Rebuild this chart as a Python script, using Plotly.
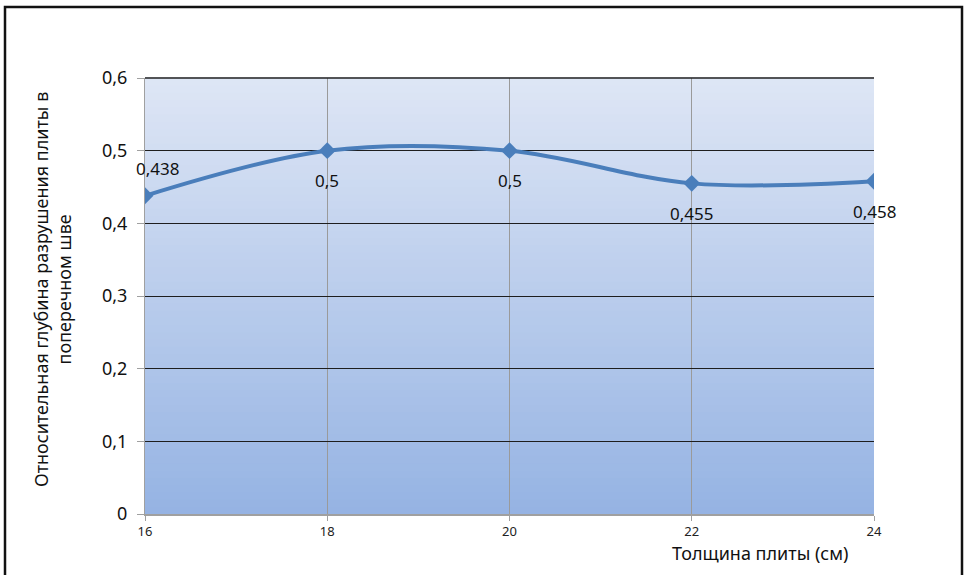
import plotly.graph_objects as go

# Data
thickness = [16, 18, 20, 22, 24]
depth = [0.438, 0.5, 0.5, 0.455, 0.458]
labels = ["0,438", "0,5", "0,5", "0,455", "0,458"]
label_shift = [27, -30, -30, -30, -30]
label_xshift = [12, 0, 0, 0, 0]
y_ticks = [0, 0.1, 0.2, 0.3, 0.4, 0.5, 0.6]
y_ticktext = ["0", "0,1", "0,2", "0,3", "0,4", "0,5", "0,6"]
x_ticks = [16, 18, 20, 22, 24]

FONT = "Noto Sans, Open Sans, sans-serif"
W, H = 967, 575
L, R, T, B = 145, 93, 78, 61
pw, ph = W - L - R, H - T - B

def px_x(px):
    return (px - L) / pw

def px_y(py):
    return (H - B - py) / ph

fig = go.Figure()

fig.add_trace(go.Scatter(
    x=thickness, y=depth, mode="lines+markers",
    line=dict(color="#4a7ebb", width=4, shape="spline", smoothing=1.0),
    marker=dict(symbol="diamond", size=13, color="#4a7ebb"),
    hoverinfo="x+y", showlegend=False,
))

# data labels
for xv, yv, t, ys, xs in zip(thickness, depth, labels, label_shift, label_xshift):
    fig.add_annotation(x=xv, y=yv, text=t, showarrow=False, yshift=ys, xshift=xs,
                       font=dict(family=FONT, size=17, color="#111111"))

# gradient background bands in plot domain
top = (222, 230, 245)
bot = (149, 179, 227)
n = 60
shapes = []
for i in range(n):
    f = (i + 0.5) / n
    c = tuple(round(bot[k] + (top[k] - bot[k]) * f) for k in range(3))
    shapes.append(dict(type="rect", xref="x domain", yref="y domain",
                       x0=0, x1=1, y0=i / n, y1=(i + 1) / n + 0.002,
                       line=dict(width=0), fillcolor="rgb(%d,%d,%d)" % c, layer="below"))
# top gridline (0.6)
shapes.append(dict(type="line", xref="x domain", yref="y domain", x0=0, x1=1, y0=1, y1=1,
                   line=dict(color="#222222", width=1.5), layer="above"))
# outer border
shapes.append(dict(type="rect", xref="paper", yref="paper",
                   x0=px_x(5), x1=px_x(962), y0=px_y(600), y1=px_y(7),
                   line=dict(color="#111111", width=2.5), fillcolor="rgba(0,0,0,0)", layer="above"))

fig.update_layout(
    width=W, height=H,
    margin=dict(l=L, r=R, t=T, b=B),
    paper_bgcolor="white", plot_bgcolor="white",
    separators=", ",
    shapes=shapes,
    font=dict(family=FONT, color="#111111"),
    xaxis=dict(range=[16, 24], tickvals=x_ticks, showgrid=True, gridcolor="#9a9a9a", gridwidth=1,
               showline=True, linecolor="#a0a0a0", linewidth=1.5,
               ticks="outside", ticklen=5, tickcolor="#a0a0a0",
               tickfont=dict(family=FONT, size=13, color="#222222"), zeroline=False),
    yaxis=dict(range=[0, 0.6], tickvals=y_ticks, ticktext=y_ticktext,
               showgrid=True, gridcolor="#1e1e1e", gridwidth=1,
               showline=True, linecolor="#a0a0a0", linewidth=1,
               ticks="outside", ticklen=7, tickcolor="#a0a0a0", ticklabelstandoff=6,
               tickfont=dict(family=FONT, size=18, color="#111111"), zeroline=False),
)

fig.add_annotation(xref="paper", yref="paper", x=px_x(52), y=px_y(290),
                   xanchor="center", yanchor="middle",
                   text="Относительная глубина разрушения плиты в<br>поперечном шве",
                   textangle=-90, showarrow=False,
                   font=dict(family=FONT, size=18, color="#111111"))
fig.add_annotation(xref="paper", yref="paper", x=px_x(760), y=px_y(553),
                   xanchor="center", yanchor="middle",
                   text="Толщина плиты (см)", showarrow=False,
                   font=dict(family=FONT, size=18, color="#111111"))

fig.write_html("out.html", config={"displayModeBar": False},
               post_script="document.body.style.margin='0px';")
